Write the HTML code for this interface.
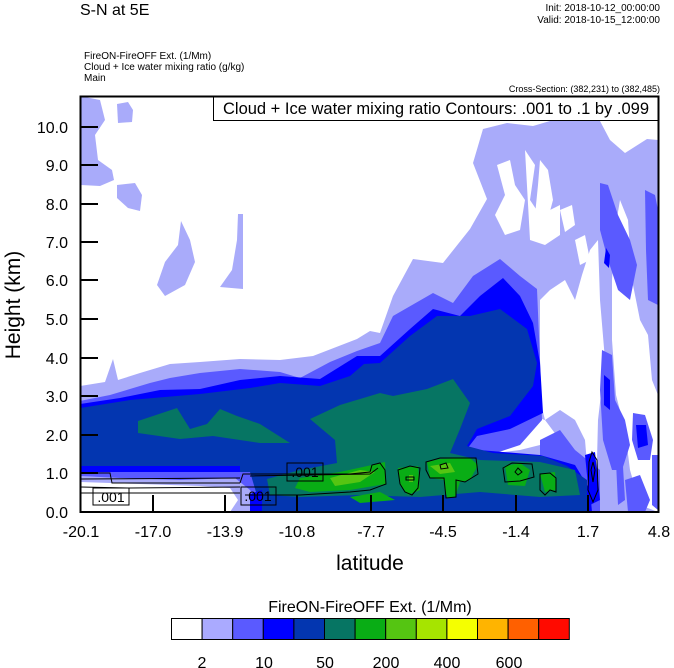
<!DOCTYPE html>
<html><head><meta charset="utf-8"><style>
body{margin:0;background:#fff;}
svg{display:block;font-family:"Liberation Sans",sans-serif;}
</style></head><body>
<svg width="674" height="668" viewBox="0 0 674 668" xmlns="http://www.w3.org/2000/svg">
<rect width="674" height="668" fill="#fff"/>
<text x="80" y="15" font-size="16">S-N at 5E</text>
<text x="660" y="11" font-size="10" text-anchor="end">Init: 2018-10-12_00:00:00</text>
<text x="660" y="23" font-size="10" text-anchor="end">Valid: 2018-10-15_12:00:00</text>
<text x="84" y="59" font-size="10">FireON-FireOFF Ext.   (1/Mm)</text>
<text x="84" y="70" font-size="10">Cloud + Ice water mixing ratio   (g/kg)</text>
<text x="84" y="81" font-size="10">Main</text>
<text x="660" y="92" font-size="9" text-anchor="end">Cross-Section: (382,231) to (382,485)</text>
<defs><clipPath id="c"><rect x="81" y="96" width="578" height="416"/></clipPath></defs>
<g clip-path="url(#c)">
<!-- lavender -->
<g fill="#a9abfa">
<path d="M80,96 L100,100 L105,120 L95,135 L98,160 L112,170 L114,180 L100,186 L80,185Z"/>
<path d="M117,104 L128,102 L133,110 L132,122 L118,123Z"/>
<path d="M117,185 L135,183 L142,195 L140,211 L128,208 L117,198Z"/>
<path d="M181,221 L190,240 L195,262 L185,285 L165,296 L157,285 L165,262 L178,245Z"/>
<path d="M238,214 L243,214 L243,289 L220,287 L232,270 L237,240Z"/>
<path d="M80,386 L105,382 L113,359 L118,380 L140,373 L170,364 L200,362 L240,359 L280,360 L313,356 L357,339 L370,331 L380,333 L393,296 L413,259 L443,263 L470,229 L487,199 L473,163 L483,129 L507,123 L533,126 L550,121 L600,121 L610,140 L625,153 L647,139 L658,140 L658,512 L80,512Z"/>
</g>
<!-- white holes -->
<g fill="#fff">
<path d="M497,165 L510,160 L515,185 L525,200 L520,230 L505,235 L495,215 L505,195Z"/>
<path d="M525,150 L535,165 L530,200 L540,215 L560,205 L560,235 L545,245 L530,240Z"/>
<path d="M540,160 L548,170 L553,200 L545,230 L535,215 L538,185Z"/>
<path d="M560,210 L572,205 L575,225 L565,232Z"/>
<path d="M575,240 L585,235 L590,260 L580,265Z"/>
<path d="M565,280 L575,300 L582,275 L590,250 L598,240 L600,300 L605,360 L598,420 L596,500 L590,500 L585,440 L575,420 L560,410 L545,420 L540,400 L540,300 L550,290Z"/>
<path d="M620,200 L628,220 L632,280 L640,320 L648,335 L652,380 L658,395 L658,512 L640,505 L630,470 L625,430 L616,395 L612,340 L612,280 L615,230Z"/>
<path d="M470,445 L500,430 L530,415 L545,420 L560,440 L520,450 L480,455Z"/>
</g>
<!-- medium blue -->
<g fill="#5a5aff">
<path d="M80,401 L110,395 L150,383 L170,378 L200,373 L240,369 L280,372 L300,378 L330,362 L357,351 L380,343 L393,316 L433,293 L453,303 L473,276 L500,259 L520,276 L537,289 L540,360 L542,420 L520,445 L490,455 L470,455 L470,512 L80,512Z"/>
<path d="M600,183 L608,185 L618,215 L630,240 L637,265 L630,300 L618,290 L608,260 L600,230Z"/>
<path d="M645,190 L655,195 L658,210 L658,305 L648,300 L646,250Z"/>
<path d="M602,350 L612,355 L615,400 L625,420 L630,445 L622,470 L612,470 L603,440 L600,390Z"/>
<path d="M633,413 L645,415 L653,440 L650,460 L638,460 L632,440Z"/>
<path d="M540,440 L560,430 L575,450 L600,470 L600,512 L540,512Z"/>
<path d="M615,440 L622,450 L625,500 L618,505Z"/>
<path d="M652,455 L658,455 L658,510 L652,505Z"/>
<path d="M625,480 L640,475 L650,500 L645,512 L628,512Z"/>
</g>
<!-- blue -->
<g fill="#0000ff">
<path d="M80,404 L120,398 L160,390 L200,389 L240,380 L280,376 L320,379 L357,356 L380,356 L410,329 L433,309 L460,316 L480,296 L503,278 L520,296 L533,323 L540,363 L543,413 L510,429 L477,436 L467,449 L540,455 L575,465 L590,490 L592,512 L80,512Z"/>
<path d="M606,248 L610,255 L609,268 L604,263Z"/>
<path d="M585,455 L595,452 L600,500 L590,505Z"/>
<path d="M636,425 L646,425 L648,445 L638,448Z"/>
<path d="M604,375 L610,380 L610,410 L604,405Z"/>
</g>
<!-- dark blue -->
<g fill="#0336b0">
<path d="M80,408 L130,400 L200,394 L250,388 L280,383 L320,386 L350,376 L364,364 L380,363 L410,336 L437,316 L470,316 L500,309 L527,329 L537,363 L533,386 L510,416 L477,429 L467,446 L493,453 L543,456 L567,466 L587,480 L587,512 L80,512Z"/>
</g>
<!-- bottom-left light layers -->
<path d="M80,466 L240,466 L240,512 L80,512Z" fill="#0000ff"/>
<path d="M80,472 L250,472 L262,512 L80,512Z" fill="#5a5aff"/>
<path d="M80,476 L120,478 L180,480 L235,478 L250,490 L262,512 L80,512Z" fill="#a9abfa"/>
<path d="M80,482 L140,484 L200,486 L230,488 L238,500 L230,512 L80,512Z" fill="#fff"/>
<path d="M250,494 L262,490 L262,512 L250,512Z" fill="#0000ff"/>
<!-- teal -->
<g fill="#067563">
<path d="M138,421 L177,408 L190,429 L207,424 L220,409 L237,416 L260,424 L290,443 L260,443 L213,436 L180,439 L138,433Z"/>
<path d="M310,419 L340,405 L380,393 L393,396 L427,389 L453,379 L470,403 L460,429 L450,453 L480,460 L540,462 L575,470 L580,495 L540,497 L480,492 L420,497 L360,495 L300,497 L270,495 L267,479 L300,470 L337,463 L335,440Z"/>
</g>
<!-- greens -->
<g fill="#09ad15">
<path d="M300,478 L340,472 L372,465 L385,462 L386,484 L350,490 L310,492 L295,488Z"/>
<path d="M398,468 L418,466 L420,490 L408,495 L400,485Z"/>
<path d="M427,462 L440,459 L470,458 L478,465 L470,480 L460,482 L455,497 L447,498 L444,480 L430,478Z"/>
<path d="M505,466 L520,463 L530,470 L525,486 L508,485Z"/>
<path d="M540,474 L555,472 L556,490 L545,492Z"/>
<path d="M350,497 L380,492 L395,500 L360,503Z"/>
</g>
<g fill="#55c512">
<path d="M330,478 L360,470 L375,472 L360,482 L335,486Z"/>
<path d="M430,466 L450,463 L455,472 L440,474Z"/>
<path d="M409,475 L413,475 L413,482 L409,482Z"/>
</g>
<!-- contours -->
<g fill="none" stroke="#000" stroke-width="1">
<path d="M80,473 L110,473 L112,483 L240,483"/>
<path d="M80,479 L240,478"/>
<path d="M80,493 L240,493"/>
<path d="M80,487 L130,488 L240,487"/>
<path d="M240,483 L243,474 L350,474 L370,472 L372,465 L380,463 L385,470 L386,484 L370,490 L350,492 L300,495 L245,495"/>
<path d="M250,476 L370,474 L378,468"/>
<path d="M398,470 L410,466 L420,468 L418,488 L412,495 L405,492 L400,484Z"/>
<path d="M406,477 L414,477 L414,480 L406,480Z"/>
<path d="M426,462 L440,458 L476,458 L478,474 L465,482 L456,480 L456,497 L446,498 L444,478 L430,478 L426,470Z"/>
<path d="M440,465 L446,463 L448,468 L441,469Z"/>
<path d="M503,468 L512,463 L532,464 L534,477 L520,481 L505,482Z"/>
<path d="M518,468 L522,472 L518,475 L515,472Z"/>
<path d="M540,474 L550,473 L556,478 L556,492 L550,490 L545,495 L540,490Z"/>
<path d="M592,452 L597,460 L598,490 L593,502 L588,490 L589,462Z"/>
<path d="M593,462 L595,470 L593,482 L591,470Z"/>
</g>
</g>
<!-- contour labels -->
<g font-size="14" stroke="none">
<rect x="93" y="488" width="36" height="17" fill="none" stroke="#000"/>
<text x="111" y="502" text-anchor="middle">.001</text>
<rect x="241" y="487" width="35" height="18" fill="none" stroke="#000"/>
<text x="258" y="501" text-anchor="middle">.001</text>
<rect x="287" y="463" width="36" height="18" fill="none" stroke="#000"/>
<text x="305" y="477" text-anchor="middle">.001</text>
</g>
<!-- info box -->
<rect x="213.5" y="96.5" width="445" height="24" fill="#fff" stroke="#000"/>
<text x="436" y="114" font-size="16.5" text-anchor="middle">Cloud + Ice water mixing ratio Contours: .001 to .1 by .099</text>
<!-- frame & ticks -->
<rect x="80.5" y="96.5" width="578" height="415.5" fill="none" stroke="#000" stroke-width="2"/>
<g stroke="#000" stroke-width="2">
<path d="M81,127H98M81,165H98M81,204H98M81,242H98M81,280H98M81,319H98M81,358H98M81,396H98M81,435H98M81,473H98"/>
<path d="M153,512V495M225,512V495M297,512V495M371,512V495M443,512V495M516,512V495M588,512V495"/>
</g>
<g font-size="16" text-anchor="end">
<text x="68" y="133">10.0</text><text x="68" y="171">9.0</text><text x="68" y="210">8.0</text>
<text x="68" y="248">7.0</text><text x="68" y="286">6.0</text><text x="68" y="325">5.0</text>
<text x="68" y="364">4.0</text><text x="68" y="402">3.0</text><text x="68" y="441">2.0</text>
<text x="68" y="479">1.0</text><text x="68" y="518">0.0</text>
</g>
<g font-size="16" text-anchor="middle">
<text x="81" y="537">-20.1</text><text x="153" y="537">-17.0</text><text x="225" y="537">-13.9</text>
<text x="297" y="537">-10.8</text><text x="371" y="537">-7.7</text><text x="443" y="537">-4.5</text>
<text x="516" y="537">-1.4</text><text x="588" y="537">1.7</text><text x="659" y="537">4.8</text>
</g>
<text x="370" y="570" font-size="21" text-anchor="middle">latitude</text>
<text transform="translate(20,305) rotate(-90)" font-size="21" text-anchor="middle">Height (km)</text>
<!-- colorbar -->
<text x="370" y="612" font-size="16" text-anchor="middle">FireON-FireOFF Ext.  (1/Mm)</text>
<g stroke="#000" stroke-width="1">
<rect x="171.5" y="618.5" width="30.6" height="21" fill="#ffffff"/>
<rect x="202.1" y="618.5" width="30.6" height="21" fill="#aaaaff"/>
<rect x="232.7" y="618.5" width="30.6" height="21" fill="#5a5aff"/>
<rect x="263.3" y="618.5" width="30.6" height="21" fill="#0000ff"/>
<rect x="293.9" y="618.5" width="30.6" height="21" fill="#0336b0"/>
<rect x="324.5" y="618.5" width="30.6" height="21" fill="#067563"/>
<rect x="355.1" y="618.5" width="30.6" height="21" fill="#09ad15"/>
<rect x="385.7" y="618.5" width="30.6" height="21" fill="#55c512"/>
<rect x="416.3" y="618.5" width="30.6" height="21" fill="#a6e400"/>
<rect x="446.9" y="618.5" width="30.6" height="21" fill="#f5ff00"/>
<rect x="477.5" y="618.5" width="30.6" height="21" fill="#ffb400"/>
<rect x="508.1" y="618.5" width="30.6" height="21" fill="#ff6000"/>
<rect x="538.7" y="618.5" width="30.6" height="21" fill="#ff0a00"/>
</g>
<g font-size="16" text-anchor="middle">
<text x="202" y="668">2</text><text x="264" y="668">10</text><text x="325" y="668">50</text>
<text x="386" y="668">200</text><text x="447" y="668">400</text><text x="509" y="668">600</text>
</g>
</svg>
</body></html>
